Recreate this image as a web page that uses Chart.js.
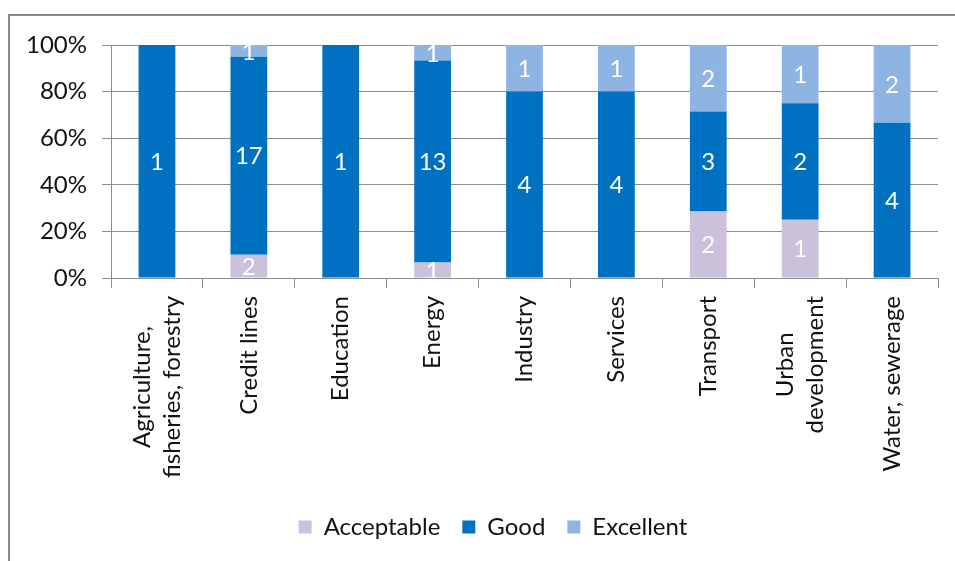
<!DOCTYPE html>
<html lang="en">
<head>
  <meta charset="UTF-8" />
  <title>Project ratings by sector</title>
  <script src="https://cdn.jsdelivr.net/npm/chart.js@4.4.0/dist/chart.umd.min.js"></script>
  <style>
    html, body { margin: 0; padding: 0; background: #fff; overflow: hidden; }
    #wrap { position: relative; width: 955px; height: 561px; overflow: hidden; }
    #frame {
      position: absolute; left: 8px; top: 14px; right: -10px; bottom: -10px;
      border-left: 2px solid #8a8a8a; border-top: 2px solid #8a8a8a;
    }
    #ratings { position: absolute; left: 0; top: 0; }
  </style>
</head>
<body>
  <div id="wrap">
    <div id="frame"></div>
    <canvas id="ratings" width="955" height="561"></canvas>
  </div>

  <script>
    // number of projects per sector and rating
    const sectors = [
      ["Agriculture,", "fisheries, forestry"],
      ["Credit lines"],
      ["Education"],
      ["Energy"],
      ["Industry"],
      ["Services"],
      ["Transport"],
      ["Urban", "development"],
      ["Water, sewerage"],
    ];
    const acceptable = [0, 2, 0, 1, 0, 0, 2, 1, 0];
    const good       = [1, 17, 1, 13, 4, 4, 3, 2, 4];
    const excellent  = [0, 1, 0, 1, 1, 1, 2, 1, 2];

    const FONT = "Lato";
    const LINE = "#8c8c8c";

    // each column is drawn as a share of that sector's total
    const totals = sectors.map((_, i) => acceptable[i] + good[i] + excellent[i]);
    const share = (arr) => arr.map((v, i) => (v / totals[i]) * 100);

    // white counts in the middle of every segment
    const segmentLabels = {
      id: "segmentLabels",
      afterDatasetsDraw(chart) {
        const { ctx, chartArea } = chart;
        ctx.save();
        ctx.beginPath();
        ctx.rect(chartArea.left, chartArea.top, chartArea.right - chartArea.left, chartArea.bottom - chartArea.top);
        ctx.clip();
        ctx.font = "24px " + FONT;
        ctx.fillStyle = "#fff";
        ctx.textAlign = "center";
        ctx.textBaseline = "middle";
        chart.data.datasets.forEach((ds, di) => {
          chart.getDatasetMeta(di).data.forEach((bar, i) => {
            const n = ds.counts[i];
            if (!n) return;
            const { x, y, base } = bar.getProps(["x", "y", "base"], true);
            ctx.fillText(String(n), x, (y + base) / 2 + 1);
          });
        });
        ctx.restore();
      },
    };

    // rotated sector names under the axis, shorter lines centred on the longest
    const sectorLabels = {
      id: "sectorLabels",
      afterDraw(chart) {
        const { ctx, chartArea } = chart;
        const xScale = chart.scales.x;
        ctx.save();
        ctx.font = "24px " + FONT;
        ctx.fillStyle = "#111";
        ctx.textAlign = "center";
        ctx.textBaseline = "middle";
        sectors.forEach((lines, i) => {
          const cx = xScale.getPixelForValue(i);
          const widest = Math.max(...lines.map((l) => ctx.measureText(l).width));
          const cy = chartArea.bottom + 18 + widest / 2;
          lines.forEach((line, k) => {
            const lx = cx + (k - (lines.length - 1) / 2) * 30;
            ctx.save();
            ctx.translate(lx, cy);
            ctx.rotate(-Math.PI / 2);
            ctx.fillText(line, 0, 0);
            ctx.restore();
          });
        });
        ctx.restore();
      },
    };

    // nudge the legend so it sits under the middle of the plot
    const legendShift = {
      id: "legendShift",
      afterLayout(chart) {
        chart.legend.left += 14;
        chart.legend.right += 14;
      },
    };

    const ctx = document.getElementById("ratings").getContext("2d");
    new Chart(ctx, {
      type: "bar",
      data: {
        labels: sectors.map((s) => s.join(" ")),
        datasets: [
          { label: "Acceptable", data: share(acceptable), counts: acceptable, backgroundColor: "#ccc1da" },
          { label: "Good",       data: share(good),       counts: good,       backgroundColor: "#0070c0" },
          { label: "Excellent",  data: share(excellent),  counts: excellent,  backgroundColor: "#8eb4e3" },
        ],
      },
      options: {
        responsive: false,
        animation: false,
        events: [],
        layout: { padding: { top: 45, right: 17, bottom: 12, left: 20 } },
        datasets: { bar: { categoryPercentage: 1, barPercentage: 0.4, borderWidth: 0 } },
        scales: {
          x: {
            stacked: true,
            offset: true,
            grid: { display: true, drawOnChartArea: false, offset: true, color: LINE, tickLength: 10 },
            border: { color: LINE },
            ticks: { display: false },
            afterFit(scale) { scale.height = 215; },
          },
          y: {
            stacked: true,
            min: 0,
            max: 100,
            ticks: {
              stepSize: 20,
              padding: 15,
              color: "#111",
              font: { family: FONT, size: 24 },
              callback: (v) => v + "%",
            },
            grid: { color: LINE, tickLength: 9 },
            border: { color: LINE },
            afterFit(scale) { scale.width = 91; },
          },
        },
        plugins: {
          legend: {
            position: "bottom",
            labels: {
              boxWidth: 13,
              boxHeight: 13,
              padding: 22,
              color: "#111",
              font: { family: FONT, size: 24 },
            },
          },
          tooltip: { enabled: false },
        },
      },
      plugins: [segmentLabels, sectorLabels, legendShift],
    });
  </script>
</body>
</html>
